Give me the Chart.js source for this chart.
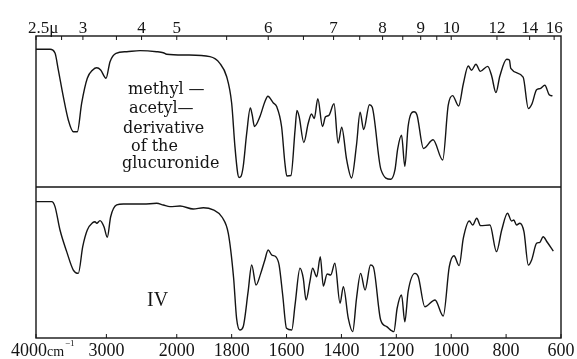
<!DOCTYPE html>
<html>
<head>
<meta charset="utf-8">
<script src="https://cdn.jsdelivr.net/npm/chart.js@4.4.1/dist/chart.umd.min.js"></script>
<style>
  html, body { margin: 0; padding: 0; background: #fff; }
</style>
</head>
<body>
<canvas id="ir" width="577" height="359"></canvas>
<script>
// upper trace: methyl-acetyl derivative of the glucuronide (cm-1, % transmittance)
const topWave = [4000, 3801, 3730, 3683, 3612, 3541, 3470, 3413, 3351, 3271, 3194, 3137, 3081, 3005, 2948, 2863, 2711, 2522, 2285, 2191, 2143,
  1964, 1879, 1843, 1818, 1800, 1788, 1778, 1773, 1766, 1758, 1745, 1732, 1725, 1717, 1697, 1679, 1668, 1648, 1636, 1618, 1606, 1599, 1584,
  1569, 1562, 1554, 1537, 1521, 1509, 1499, 1486, 1469, 1458, 1446, 1427, 1412, 1399, 1381, 1363, 1345, 1332, 1319, 1298, 1288, 1256, 1220,
  1205, 1195, 1181, 1169, 1157, 1136, 1125, 1101, 1066, 1031, 1011, 995, 973, 956, 938, 926, 910, 894, 867, 853, 837, 823, 798, 788, 783,
  738, 719, 706, 689, 676, 659, 643, 631];
const topTrans = [91.2, 91.2, 88.7, 77.5, 59.8, 44.4, 36.6, 36.6, 55.6, 72, 77.5, 79, 77.5, 72, 83, 88.5, 89.6, 90.3, 89.6, 88.9, 87.9,
  87.4, 86.3, 81.9, 73, 55.6, 26.7, 9.1, 6.3, 7, 13.4, 35.8, 52.3, 47.7, 40.1, 46.6, 56.5, 60.1, 55.6, 53.3, 39.9, 15.9, 7.3, 7.6,
  37.7, 50.7, 46.6, 29.5, 42.2, 48.3, 45.4, 58.4, 40.1, 46.5, 47.4, 55.1, 29.1, 39.6, 18.1, 6, 28, 49.5, 38, 54.5, 53, 11.5, 5.1,
  11.3, 25.3, 34.3, 13.7, 40.2, 49.8, 47.9, 25.5, 31.3, 17.9, 54, 60.5, 53.6, 68.2, 80.1, 77.3, 81.3, 76.6, 79.9, 73.8, 62.5, 73.3, 84.6, 84.1, 78.5,
  72.7, 52, 55, 64.4, 65.2, 67.4, 61.1, 60.3];

// lower trace: compound IV
const botWave = [4000, 3777, 3730, 3659, 3564, 3470, 3399, 3336, 3271, 3194, 3162, 3137, 3091, 3034, 2987, 2939, 2853, 2759, 2475, 2285, 2191, 2096,
  1988, 1940, 1903, 1867, 1834, 1812, 1793, 1782, 1770, 1758, 1740, 1727, 1711, 1694, 1679, 1667, 1654, 1639, 1627, 1614, 1600, 1581,
  1569, 1551, 1539, 1529, 1515, 1505, 1490, 1477, 1466, 1452, 1439, 1424, 1405, 1393, 1375, 1359, 1345, 1330, 1314, 1294, 1284, 1257,
  1235, 1209, 1197, 1181, 1169, 1157, 1132, 1120, 1096, 1059, 1029, 1007, 990, 971, 956, 934, 922, 907, 893, 859, 835, 816, 795, 780,
  772, 762, 750, 735, 719, 707, 689, 677, 665, 650, 628];
const botTrans = [90.3, 90.3, 87, 71.5, 57.2, 45, 42.8, 60.5, 71.5, 76.4, 77, 76, 77.7, 73.7, 66.7, 80.3, 88.1, 88.7, 88.7, 89.2, 88.1, 87,
  87.4, 85.4, 86.3, 84.8, 79.8, 69.2, 40.1, 13, 5.3, 7.5, 30.7, 48.3, 35.1, 42.8, 51.7, 58.3, 55, 53.8, 48.3, 28.5, 6.4, 5.3,
  21.9, 46.2, 39.5, 25.2, 37.3, 46.2, 40.6, 53.8, 34.4, 42.4, 41.7, 49.5, 23, 34, 13, 4.2, 26.3, 42.8, 31.8, 48.3, 47.2, 11.9,
  7.5, 4.2, 19.7, 28.5, 10.8, 30.7, 42.8, 40.6, 20.7, 25.2, 14.6, 47.2, 54.5, 47.9, 66, 77.5, 74.8, 79.3, 74.4, 74.8, 57.2, 71.5, 82.6, 77.5,
  78.1, 74.8, 76, 70.4, 48.3, 51.7, 62.7, 63.4, 67.1, 63.4, 57.6];

const cmTicks = [4000, 3000, 2000, 1800, 1600, 1400, 1200, 1000, 800, 600];
const muLabels = [2.5, 3, 4, 5, 6, 7, 8, 9, 10, 12, 14, 16];
const muMinor = [2.75, 3.5, 5.5, 6.5, 7.5, 8.5, 9.5];

const topNote = ["methyl —", "acetyl—", "derivative", "of the", "glucuronide"];
const botNote = "IV";

// chart paper is stretched below 2000 cm-1
const STRETCH = 3.9;
function pos(w) {
  return w >= 2000 ? 4000 - w : 2000 + (2000 - w) * STRETCH;
}

function pairs(ws, ts) {
  return ws.map((w, i) => ({ x: pos(w), y: ts[i] }));
}

const serif = "'Liberation Serif', 'Times New Roman', serif";
const ink = "#141414";

const framePlugin = {
  id: "frame",
  afterDatasetsDraw(chart) {
    const { ctx, chartArea: a, scales } = chart;
    ctx.save();
    ctx.strokeStyle = ink;
    ctx.lineWidth = 1.4;
    ctx.strokeRect(a.left, a.top, a.right - a.left, a.bottom - a.top);
    const mid = scales.yTop.bottom;
    ctx.beginPath();
    ctx.moveTo(a.left, mid);
    ctx.lineTo(a.right, mid);
    ctx.stroke();

    // inward tick marks
    ctx.lineWidth = 1;
    ctx.beginPath();
    muLabels.concat(muMinor).forEach((m) => {
      const px = scales.xMu.getPixelForValue(pos(10000 / m));
      ctx.moveTo(px, a.top);
      ctx.lineTo(px, a.top + 4);
    });
    cmTicks.forEach((w) => {
      const px = scales.x.getPixelForValue(pos(w));
      ctx.moveTo(px, a.bottom);
      ctx.lineTo(px, a.bottom - 4);
    });
    ctx.stroke();

    // first labels carry the units
    ctx.fillStyle = ink;
    ctx.textAlign = "left";
    ctx.textBaseline = "alphabetic";
    const p0 = scales.x.getPixelForValue(pos(4000));
    ctx.font = "18px " + serif;
    ctx.fillText("4000", p0 - 25, 356);
    ctx.font = "14px " + serif;
    ctx.fillText("cm", p0 + 11, 356);
    ctx.font = "9px " + serif;
    ctx.fillText("−1", p0 + 29, 346);
    ctx.font = "17px " + serif;
    ctx.fillText("2.5μ", p0 - 8, 33);

    // notes inside the panels
    ctx.font = "16px 'DejaVu Serif', serif";
    const t = scales.yTop.top;
    const rows = [[92, 58], [93, 77], [87, 97], [95, 115], [86, 132]];
    topNote.forEach((s, i) => ctx.fillText(s, a.left + rows[i][0], t + rows[i][1]));
    ctx.font = "20px " + serif;
    ctx.fillText(botNote, a.left + 111, scales.yBot.top + 119);
    ctx.restore();
  },
};

const panelAxis = {
  type: "linear",
  position: "left",
  stack: "panels",
  stackWeight: 1,
  min: 0,
  max: 100,
  grid: { display: false, drawTicks: false },
  border: { display: false },
  ticks: { display: false },
  afterFit(s) {
    s.width = 0;
  },
};

const traceStyle = {
  borderColor: ink,
  borderWidth: 1.4,
  pointRadius: 0,
  fill: false,
  cubicInterpolationMode: "monotone",
};

new Chart(document.getElementById("ir").getContext("2d"), {
  type: "line",
  data: {
    datasets: [
      { ...traceStyle, data: pairs(topWave, topTrans), xAxisID: "x", yAxisID: "yTop" },
      { ...traceStyle, data: pairs(botWave, botTrans), xAxisID: "x", yAxisID: "yBot" },
    ],
  },
  options: {
    responsive: false,
    animation: false,
    layout: { padding: { left: 36, right: 16, top: 0, bottom: 0 } },
    plugins: {
      legend: { display: false },
      tooltip: { enabled: false },
    },
    scales: {
      x: {
        type: "linear",
        position: "bottom",
        min: 0,
        max: pos(600),
        grid: { display: false, drawTicks: false },
        border: { display: false },
        afterBuildTicks(s) {
          s.ticks = cmTicks.map((w) => ({ value: pos(w) }));
        },
        ticks: {
          autoSkip: false,
          maxRotation: 0,
          padding: 2,
          color: ink,
          font: { family: serif, size: 18 },
          callback: (v, i) => (i === 0 ? "" : String(cmTicks[i])),
        },
        afterFit(s) {
          s.height = 21;
        },
      },
      xMu: {
        type: "linear",
        position: "top",
        min: 0,
        max: pos(600),
        grid: { display: false, drawTicks: false },
        border: { display: false },
        afterBuildTicks(s) {
          s.ticks = muLabels.map((m) => ({ value: pos(10000 / m) }));
        },
        ticks: {
          autoSkip: false,
          maxRotation: 0,
          padding: -3,
          color: ink,
          font: { family: serif, size: 17 },
          callback: (v, i) => (i === 0 ? "" : String(muLabels[i])),
        },
        afterFit(s) {
          s.height = 36;
        },
      },
      yBot: { ...panelAxis },
      yTop: { ...panelAxis },
    },
  },
  plugins: [framePlugin],
});
</script>
</body>
</html>
